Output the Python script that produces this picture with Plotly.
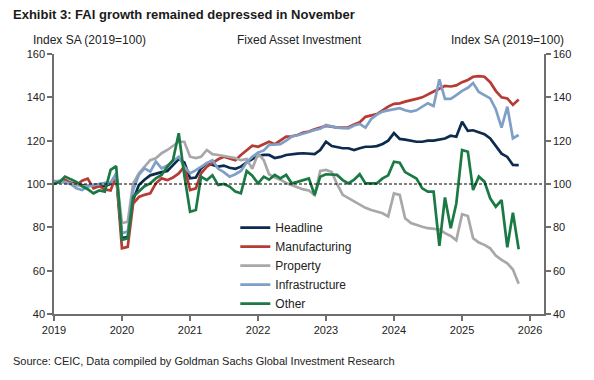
import pandas as pd
import plotly.graph_objects as go

# Monthly index values, Jan 2019 - Nov 2025 (Index SA, 2019=100)
dates = pd.date_range("2019-01-01", periods=83, freq="MS")

headline = [101, 101, 101.5, 100.5, 100, 99.5, 99, 99.5, 99.5, 99, 100, 104,
            75, 75.5, 92.6, 99.5, 102, 104, 104.8, 105.5, 106, 108.8, 111.5, 110,
            102.6, 103, 107.2, 109.6, 108.8, 108, 108.5, 107.5, 107, 108, 110, 111.5,
            113, 113.4, 113.4, 112, 112.5, 113.4, 113.8, 114, 114.2, 114, 113.8, 115.7,
            119.5, 117.5, 117, 116.5, 116.5, 115.7, 116.5, 117.2, 117.2, 117.5, 118.5, 120,
            123.5, 120.8, 120.5, 120, 119.5, 119.5, 120, 120, 120.5, 121, 122.3, 121.8,
            128.7, 124.5, 124.8, 124, 123, 121, 117.5, 114, 112.5, 108.8, 108.7]

manufacturing = [101, 101, 102, 100.5, 99.5, 101.5, 102.5, 98, 99, 97.5, 97, 104,
                 70.3, 71, 91, 94, 95, 95.7, 100.3, 102.6, 101.8, 103, 104.9, 108,
                 97.2, 98, 104.9, 108, 109.6, 111.4, 112.6, 111.8, 111, 113.4, 115.7, 117.7,
                 117.2, 118.5, 119.5, 118.4, 120, 121.9, 122, 122.6, 123.7, 124.2, 125.2, 126,
                 126.8, 126.5, 126, 126, 126.2, 127.5, 128.5, 131, 131.5, 132.3, 134, 135.7,
                 137, 137.2, 138, 138.5, 139.3, 140, 141.5, 142.7, 144, 145.3, 145, 145.5,
                 147, 148, 149.5, 149.8, 149.5, 147, 143, 140, 139.5, 136.5, 139]

property_ = [101, 101.5, 100.5, 100, 99.5, 99, 99, 99.5, 100, 100, 100.5, 104.5,
             82, 82.6, 100.3, 104.9, 108, 111, 111.9, 114.2, 115.7, 117.5, 119.5, 119.5,
             112.6, 112, 112.6, 115.7, 113.8, 113.4, 113, 112.5, 112, 111, 111.5, 107,
             114, 111, 104.5, 103, 102, 100.5, 99.5, 98.2, 97.5, 97, 94.9, 106,
             106.5, 105.5, 100, 95, 93.5, 92, 90.3, 89, 88, 87.2, 86.5, 85,
             95.7, 95, 84.2, 82, 81, 80.3, 79.6, 79.3, 79, 77.3, 76, 74,
             86, 85.2, 75, 73, 71.9, 70.3, 67, 65, 63.4, 60.5, 54]

infrastructure = [101.5, 101, 101, 100, 98, 97.2, 99, 99.5, 100, 100.5, 100.5, 104.9,
                  77.3, 78, 97.2, 104.2, 107.2, 105.7, 110.3, 107.2, 108.5, 110.5, 112.6, 108,
                  104.9, 106.4, 108, 109.6, 111, 107, 105.5, 103.4, 104.5, 106, 110, 112.6,
                  114.5, 115.5, 118, 118.2, 118.4, 120, 121.9, 122.5, 123.1, 124, 124.9, 125.5,
                  127.2, 126.5, 126, 125.8, 125.7, 127, 127.7, 126, 130, 132, 133.4, 134,
                  134.5, 135, 134, 133.4, 134, 135.5, 137.3, 136, 148.3, 139.3, 139.3, 141,
                  143, 144.4, 146.6, 142.5, 141, 139.5, 134.5, 126, 135.7, 121.1, 122.6]

other = [100, 101, 103.4, 102, 101, 99, 97.6, 95.7, 97, 96.5, 106.5, 108.3,
         74.2, 74.9, 94.1, 96.5, 99, 100.3, 102.6, 104.2, 108, 111, 123.4, 104,
         87.2, 88, 103.4, 101.8, 104, 99.5, 100, 98.8, 96.5, 95.7, 106, 103.8,
         100.3, 103.4, 102, 104.2, 102.6, 104.2, 100.3, 101, 101.8, 102.6, 94.9, 103.4,
         104.5, 104.2, 104.2, 101.8, 100.3, 102, 104.5, 100.3, 100.3, 100.3, 102.6, 104,
         110.3, 109.8, 105.5, 104, 102.5, 98, 96.5, 96.5, 71.4, 93.8, 79.6, 91,
         115.7, 114.9, 97.2, 103.4, 101.1, 93.4, 89.5, 92.6, 70.8, 86.8, 69.9]

series_names = ["Headline", "Manufacturing", "Property", "Infrastructure", "Other"]
series_values = [headline, manufacturing, property_, infrastructure, other]
series_colors = ["#0d2b4e", "#b73a33", "#a8a8a8", "#7f9fc6", "#1b7a44"]

year_ticks = [str(y) for y in range(2019, 2027)]
y_ticks = [40, 60, 80, 100, 120, 140, 160]

FONT = "Liberation Sans, Arial, sans-serif"
AX = "#6e6e6e"

fig = go.Figure()
for name, vals, col in zip(series_names, series_values, series_colors):
    fig.add_trace(go.Scatter(x=dates, y=vals, name=name, mode="lines",
                             line=dict(color=col, width=2.7)))

# helper trace so the right-hand axis renders (invisible)
fig.add_trace(go.Scatter(x=dates, y=headline, yaxis="y2", mode="lines",
                         line=dict(width=0), opacity=0, showlegend=False,
                         hoverinfo="skip"))

fig.add_hline(y=100, line=dict(color="black", width=1, dash="3px,2px"))

axis_common = dict(showgrid=False, zeroline=False, showline=True, linecolor=AX,
                   linewidth=1.5, ticks="outside", ticklen=5, tickcolor=AX,
                   tickwidth=1.5, tickfont=dict(family=FONT, size=11, color="#222"))

# the page body adds an 8px offset, so margins are shifted to keep the plot area
# at the reference position in the window
fig.update_layout(
    width=594, height=380,
    margin=dict(l=46, r=58, t=46, b=74),
    paper_bgcolor="white", plot_bgcolor="white",
    font=dict(family=FONT, size=11, color="#222"),
    xaxis=dict(type="date", range=["2019-01-01", "2026-03-17"],
               tickvals=[f"{y}-01-01" for y in year_ticks], ticktext=year_ticks,
               **axis_common),
    yaxis=dict(range=[40, 160], tickvals=y_ticks, **axis_common),
    yaxis2=dict(range=[40, 160], tickvals=y_ticks, overlaying="y", side="right",
                anchor="x", **axis_common),
    legend=dict(x=0.37, y=0.388, xanchor="left", yanchor="top",
                bgcolor="rgba(0,0,0,0)", font=dict(family=FONT, size=12, color="#222"),
                tracegroupgap=0),
    showlegend=True,
)

def px_x(px):
    return (px - 54) / 490

def px_y(py):
    return (314 - py) / 260

annos = [
    dict(text="<b>Exhibit 3: FAI growth remained depressed in November</b>", x=px_x(11), y=px_y(14),
         xanchor="left", yanchor="middle", font=dict(size=13, color="#1a1a1a")),
    dict(text="Index SA (2019=100)", x=px_x(89), y=px_y(40), xanchor="center", yanchor="middle",
         font=dict(size=12, color="#222")),
    dict(text="Fixed Asset Investment", x=px_x(299), y=px_y(40), xanchor="center", yanchor="middle",
         font=dict(size=12, color="#222")),
    dict(text="Index SA (2019=100)", x=px_x(507), y=px_y(40), xanchor="center", yanchor="middle",
         font=dict(size=12, color="#222")),
    dict(text="Source: CEIC, Data compiled by Goldman Sachs Global Investment Research", x=px_x(11), y=px_y(361),
         xanchor="left", yanchor="middle", font=dict(size=11, color="#222")),
]
for a in annos:
    fig.add_annotation(xref="paper", yref="paper", showarrow=False,
                       font_family=FONT, **a)

fig.write_html("out.html")
